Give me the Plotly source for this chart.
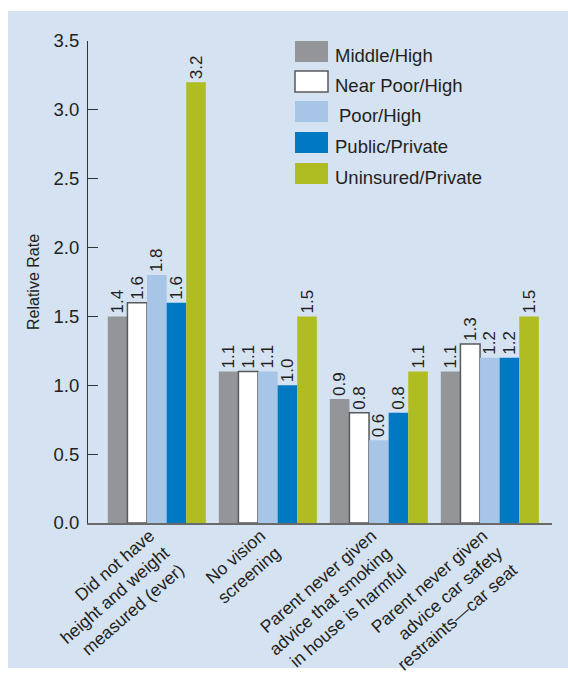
import plotly.graph_objects as go

categories = [
    "Did not have<br>height and weight<br>measured (ever)",
    "No vision<br>screening",
    "Parent never given<br>advice that smoking<br>in house is harmful",
    "Parent never given<br>advice car safety<br>restraints\u2014car seat",
]
series_names = ["Middle/High", "Near Poor/High", "Poor/High", "Public/Private", "Uninsured/Private"]
middle_high = [1.5, 1.1, 0.9, 1.1]
near_poor_high = [1.6, 1.1, 0.8, 1.3]
poor_high = [1.8, 1.1, 0.6, 1.2]
public_private = [1.6, 1.0, 0.8, 1.2]
uninsured_private = [3.2, 1.5, 1.1, 1.5]
series_values = [middle_high, near_poor_high, poor_high, public_private, uninsured_private]
# printed labels (as shown in the source figure)
middle_high_labels = ["1.4", "1.1", "0.9", "1.1"]
near_poor_high_labels = ["1.6", "1.1", "0.8", "1.3"]
poor_high_labels = ["1.8", "1.1", "0.6", "1.2"]
public_private_labels = ["1.6", "1.0", "0.8", "1.2"]
uninsured_private_labels = ["3.2", "1.5", "1.1", "1.5"]
series_labels = [middle_high_labels, near_poor_high_labels, poor_high_labels,
                 public_private_labels, uninsured_private_labels]

colors = ["#939598", "#ffffff", "#a7c5e6", "#0079c2", "#afbc22"]
line_colors = ["#939598", "#58595b", "#a7c5e6", "#0079c2", "#afbc22"]
line_widths = [0, 1.5, 0, 0, 0]

W, H = 568, 677
L, R, T, B = 88, 16, 41, 154
PW = W - L - R
PH = H - T - B

def px(x):
    return (x - L) / PW

def py(y):
    return (H - B - y) / PH

FONT = "Liberation Sans, Arial, Helvetica"
TXT = "#231f20"

fig = go.Figure()
for name, vals, labs, c, lc, lw in zip(series_names, series_values, series_labels, colors, line_colors, line_widths):
    fig.add_trace(go.Bar(
        x=categories, y=vals, name=name, text=labs,
        texttemplate="%{text}", textposition="outside", textangle=-90,
        textfont=dict(family=FONT, size=17, color=TXT),
        constraintext="none", cliponaxis=False,
        marker=dict(color=c, line=dict(color=lc, width=lw)),
        showlegend=False,
    ))

shapes = [dict(type="rect", xref="paper", yref="paper",
               x0=px(8), x1=px(568), y0=py(668), y1=py(11),
               fillcolor="#d5e2f1", line=dict(width=0), layer="below")]
annotations = []
row_tops = [41, 71, 101, 132, 163]
text_x = [333, 333, 337, 333, 333]
for i, name in enumerate(series_names):
    top = row_tops[i]
    shapes.append(dict(type="rect", xref="paper", yref="paper",
                       x0=px(295), x1=px(328), y0=py(top + 21), y1=py(top),
                       fillcolor=colors[i],
                       line=dict(color=line_colors[i], width=1.5 if line_widths[i] else 0)))
    annotations.append(dict(x=px(text_x[i]), y=py(top + 14), xref="paper", yref="paper",
                            text=name, showarrow=False, xanchor="left", yanchor="middle",
                            font=dict(family=FONT, size=18.5, color=TXT)))

fig.update_layout(
    width=W, height=H,
    margin=dict(l=L, r=R, t=T, b=B, autoexpand=False),
    paper_bgcolor="white", plot_bgcolor="rgba(0,0,0,0)",
    barmode="group", bargap=0.117, bargroupgap=0,
    font=dict(family=FONT, color=TXT),
    shapes=shapes, annotations=annotations,
    xaxis=dict(range=[-0.62, 3.56], showline=True, linecolor="#6a6a6a", linewidth=1.5,
               ticks="", tickangle=-41, showgrid=False, zeroline=False, automargin=False,
               ticklabelstandoff=-6, ticklabelshift=-7,
               tickfont=dict(size=17.5, color=TXT)),
    yaxis=dict(range=[0, 3.5], dtick=0.5, tickformat=".1f", ticks="inside", ticklen=10,
               tickwidth=1.2, tickcolor="#333333", showline=True, linecolor="#333333",
               linewidth=1.2, showgrid=False, zeroline=False, ticklabelstandoff=4,
               automargin=False,
               tickfont=dict(size=18.5, color=TXT),
               title=dict(text="Relative Rate", font=dict(size=16, color=TXT), standoff=9)),
)

fig.write_html("out.html")
